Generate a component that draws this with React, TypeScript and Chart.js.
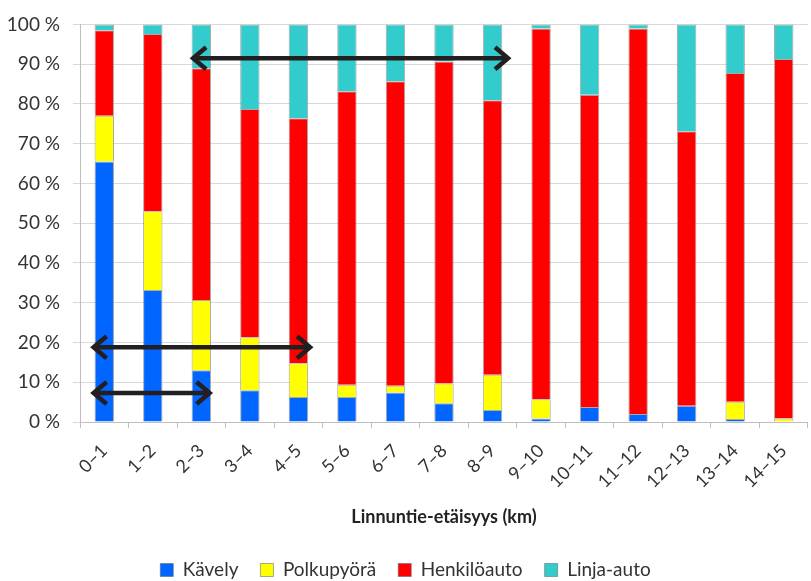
import React, { useEffect, useRef } from "react";
import { Chart, registerables } from "chart.js";

Chart.register(...registerables);

const categories = ["0–1", "1–2", "2–3", "3–4", "4–5", "5–6", "6–7", "7–8", "8–9", "9–10", "10–11", "11–12", "12–13", "13–14", "14–15"];
const kavely = [65.5, 33.2, 13, 8, 6.3, 6.3, 7.4, 4.7, 3, 0.9, 3.8, 2, 4.1, 0.75, 0];
const polkupyora = [11.5, 19.8, 17.7, 13.3, 8.5, 3.1, 1.7, 5, 8.9, 4.85, 0, 0, 0, 4.35, 0.9];
const henkiloauto = [21.5, 44.6, 58.3, 57.4, 61.6, 73.8, 76.6, 81, 69, 93.25, 78.5, 97, 69, 82.65, 90.4];
const linjaAuto = [1.5, 2.4, 11, 21.3, 23.6, 16.8, 14.3, 9.3, 19.1, 1, 17.7, 1, 26.9, 12.25, 8.7];
const seriesNames = ["Kävely", "Polkupyörä", "Henkilöauto", "Linja-auto"];
const yTicks = [0, 10, 20, 30, 40, 50, 60, 70, 80, 90, 100];
const xTitle = "Linnuntie-etäisyys (km)";

// annotation arrows: category-index span and percentage level
const arrowFrom = [1.81, -0.24, -0.24];
const arrowTo = [8.34, 4.26, 2.19];
const arrowLevel = [91.5, 18.8, 7.3];

const arrowPlugin = {
  id: "arrows",
  afterDatasetsDraw(chart: any) {
    const { ctx, scales } = chart;
    const xs = scales.x;
    const ys = scales.y;
    ctx.save();
    ctx.strokeStyle = "#231f20";
    ctx.lineWidth = 4.5;
    ctx.lineCap = "butt";
    ctx.lineJoin = "miter";
    for (let i = 0; i < arrowFrom.length; i++) {
      const x1 = xs.getPixelForValue(arrowFrom[i]);
      const x2 = xs.getPixelForValue(arrowTo[i]);
      const y = ys.getPixelForValue(arrowLevel[i]);
      ctx.beginPath();
      ctx.moveTo(x1 + 2, y);
      ctx.lineTo(x2 - 2, y);
      ctx.stroke();
      const dx = 14;
      const dy = 11;
      ctx.beginPath();
      ctx.moveTo(x1 + dx, y - dy);
      ctx.lineTo(x1 + 1, y);
      ctx.lineTo(x1 + dx, y + dy);
      ctx.stroke();
      ctx.beginPath();
      ctx.moveTo(x2 - dx, y - dy);
      ctx.lineTo(x2 - 1, y);
      ctx.lineTo(x2 - dx, y + dy);
      ctx.stroke();
    }
    ctx.restore();
  },
};

export default function App() {
  const canvasRef = useRef<HTMLCanvasElement | null>(null);

  useEffect(() => {
    if (!canvasRef.current) return;
    const border = "rgba(100,100,100,0.55)";
    const chart = new Chart(canvasRef.current, {
      type: "bar",
      data: {
        labels: categories,
        datasets: [
          { label: seriesNames[0], data: kavely, backgroundColor: "#0066ff", borderColor: border, borderWidth: 1 },
          { label: seriesNames[1], data: polkupyora, backgroundColor: "#ffff00", borderColor: border, borderWidth: 1 },
          { label: seriesNames[2], data: henkiloauto, backgroundColor: "#ff0000", borderColor: border, borderWidth: 1 },
          { label: seriesNames[3], data: linjaAuto, backgroundColor: "#33cccc", borderColor: border, borderWidth: 1 },
        ],
      },
      options: {
        animation: false,
        responsive: false,
        devicePixelRatio: 1,
        datasets: { bar: { categoryPercentage: 0.4, barPercentage: 1 } },
        layout: { padding: { left: 0, right: 0, top: 22, bottom: 0 } },
        plugins: {
          tooltip: { enabled: false },
          legend: {
            position: "bottom",
            maxHeight: 42.5,
            labels: {
              boxWidth: 13,
              boxHeight: 13,
              padding: 22,
              color: "#333333",
              font: { family: "Lato", size: 19 },
            },
          },
        },
        scales: {
          x: {
            stacked: true,
            afterFit: (s: any) => {
              s.height = 116.5;
            },
            grid: { display: true, drawOnChartArea: false, drawTicks: true, tickLength: 6, color: "#bfbfbf" },
            border: { display: true, color: "#bfbfbf" },
            ticks: {
              minRotation: 45,
              maxRotation: 45,
              padding: 12,
              color: "#333333",
              font: { family: "Lato", size: 18 },
              autoSkip: false,
            },
            title: {
              display: true,
              text: xTitle,
              color: "#222222",
              font: { family: "Lato", size: 18, weight: "bold" },
              padding: { top: 0, bottom: 11 },
            },
          },
          y: {
            stacked: true,
            min: 0,
            max: 100,
            afterFit: (s: any) => {
              s.width = 80;
            },
            afterBuildTicks: (s: any) => {
              s.ticks = yTicks.map((v) => ({ value: v }));
            },
            grid: { color: "#d9d9d9", tickLength: 7, drawTicks: true },
            border: { display: true, color: "#bfbfbf" },
            ticks: {
              padding: 13,
              color: "#333333",
              font: { family: "Lato", size: 19 },
              callback: (v: any) => `${v} %`,
            },
          },
        },
      },
      plugins: [arrowPlugin],
    });
    return () => chart.destroy();
  }, []);

  return (
    <div style={{ position: "fixed", left: 0, top: 0, width: 811, height: 581, background: "#ffffff" }}>
      <canvas ref={canvasRef} width={811} height={581} />
    </div>
  );
}
